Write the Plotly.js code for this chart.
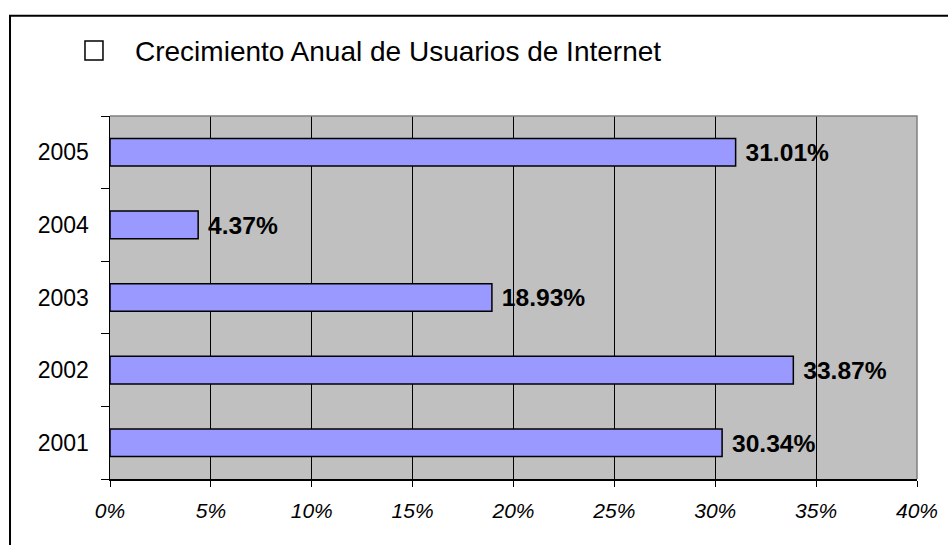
<!DOCTYPE html>
<html>
<head>
<meta charset="utf-8">
<script src="https://cdn.plot.ly/plotly-3.0.1.min.js"></script>
<style>html,body{margin:0;padding:0;background:#fff;}#chart{width:948px;height:545px;}</style>
</head>
<body>
<div id="chart"></div>
<script>
const years = ['2001', '2002', '2003', '2004', '2005'];
const growth = [0.3034, 0.3387, 0.1893, 0.0437, 0.3101];
const seriesName = 'Crecimiento Anual de Usuarios de Internet';
const xTickVals = [0, 0.05, 0.10, 0.15, 0.20, 0.25, 0.30, 0.35, 0.40];

const FONT = 'Liberation Sans, Arial, sans-serif';

const trace = {
  type: 'bar',
  orientation: 'h',
  y: years,
  x: growth,
  name: seriesName,
  width: 0.38,
  marker: {color: '#9999FF', line: {color: '#000000', width: 1.5}},
  texttemplate: ' %{x:.2%}',
  textposition: 'outside',
  textfont: {family: FONT, size: 25, color: '#000000', weight: 'bold'},
  cliponaxis: false,
  hoverinfo: 'skip'
};

const layout = {
  width: 948, height: 545,
  margin: {l: 110, r: 31, t: 116, b: 66},
  paper_bgcolor: '#FFFFFF',
  plot_bgcolor: '#C0C0C0',
  showlegend: false,
  font: {family: FONT, color: '#000000'},
  title: {
    text: seriesName,
    font: {family: FONT, size: 28, color: '#000000'},
    xref: 'container', x: 135/948, xanchor: 'left',
    yref: 'container', y: 1 - 51/545, yanchor: 'middle'
  },
  xaxis: {
    range: [0, 0.4],
    tickvals: xTickVals,
    tickformat: '.0%',
    showgrid: true, gridcolor: '#000000', gridwidth: 1,
    zeroline: false,
    showline: true, linecolor: '#000000', linewidth: 1.5,
    ticks: 'outside', ticklen: 6, tickcolor: '#000000', tickwidth: 1,
    tickfont: {family: FONT, size: 21, color: '#000000', style: 'italic'},
    ticklabelstandoff: 6,
    fixedrange: true
  },
  yaxis: {
    type: 'category',
    categoryorder: 'array', categoryarray: years,
    tickson: 'boundaries',
    showgrid: false, zeroline: false,
    showline: true, linecolor: '#000000', linewidth: 1.5,
    ticks: 'outside', ticklen: 8, tickcolor: '#000000', tickwidth: 1,
    tickfont: {family: FONT, size: 23, color: '#000000'},
    ticklabelstandoff: 15,
    fixedrange: true
  },
  shapes: [
    {type: 'path', xref: 'paper', yref: 'paper',
     path: 'M 1,0 L 1,1 L 0,1', line: {color: '#808080', width: 1.5}, layer: 'above'},
    {type: 'path', xref: 'paper', yref: 'paper',
     path: 'M -0.1239,-0.3 L -0.1239,1.2763 L 1.2,1.2763', line: {color: '#000000', width: 2}},
    {type: 'rect', xref: 'paper', yref: 'paper',
     x0: -0.031, x1: -0.0087, y0: 1.1543, y1: 1.2066,
     fillcolor: '#FFFFFF', line: {color: '#000000', width: 1.5}}
  ]
};

Plotly.newPlot('chart', [trace], layout, {displayModeBar: false, staticPlot: true});
</script>
</body>
</html>
